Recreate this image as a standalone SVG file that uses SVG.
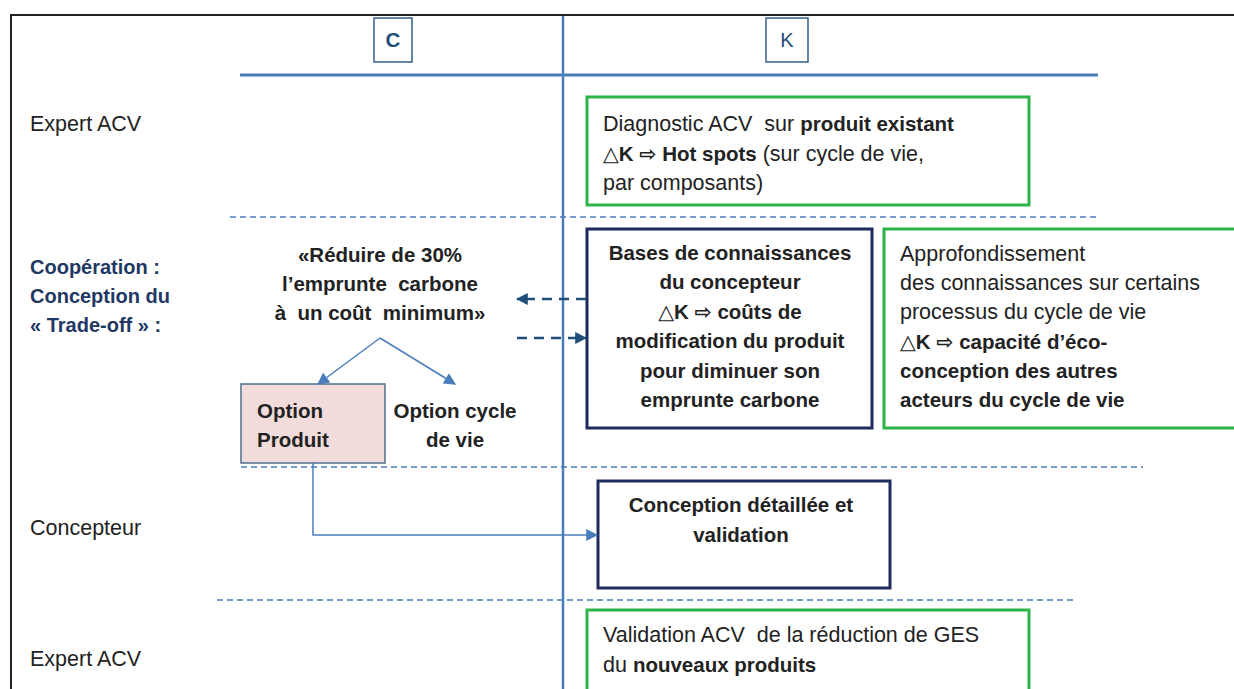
<svg xmlns="http://www.w3.org/2000/svg" width="1234" height="689" viewBox="0 0 1234 689">
<defs>
<style>
text{font-family:"Liberation Sans","DejaVu Sans",sans-serif;font-size:21.5px;fill:#222;white-space:pre}
.b{font-weight:bold;font-size:20.5px}
tspan.b{font-size:20.5px}
.c{text-anchor:middle}
.navy{fill:#1f3864;font-weight:bold;font-size:20px}
.g{fill:#fff;stroke:#2db34a;stroke-width:3}
.n{fill:#fff;stroke:#1f2a5c;stroke-width:3}
.dash{stroke:#4a7ebb;stroke-width:1.5;stroke-dasharray:6 4;fill:none}
.ln{stroke:#4a7ebb;stroke-width:1.5;fill:none}
.dk{stroke:#1f4e79;stroke-width:2.5;stroke-dasharray:10 7;fill:none}
</style>
<marker id="a" viewBox="0 0 10 10" refX="9" refY="5" markerWidth="13" markerHeight="12" markerUnits="userSpaceOnUse" orient="auto"><path d="M0,0L10,5L0,10z" fill="#4a7ebb"/></marker>
<marker id="d" viewBox="0 0 10 10" refX="9" refY="5" markerWidth="12" markerHeight="12" markerUnits="userSpaceOnUse" orient="auto"><path d="M0,0L10,5L0,10z" fill="#1f4e79"/></marker>
</defs>
<rect width="1234" height="689" fill="#fff"/>
<rect x="11" y="15" width="1240" height="700" fill="none" stroke="#222" stroke-width="2"/>
<g id="grid">
<line x1="240" y1="75" x2="1098" y2="75" stroke="#4a7ebb" stroke-width="3"/>
<line x1="563" y1="16" x2="563" y2="689" stroke="#4a7ebb" stroke-width="2.5"/>
<line class="dash" x1="230" y1="217" x2="1098" y2="217"/>
<line class="dash" x1="241" y1="467" x2="1143" y2="467"/>
<line class="dash" x1="217" y1="600" x2="1076" y2="600"/>
</g>
<g id="C"><rect x="374" y="18" width="38" height="44" fill="#fff" stroke="#2f5f8f" stroke-width="1.5"/><text class="c b" x="393" y="47" style="fill:#1f4e79">C</text></g>
<g id="K"><rect x="766" y="18" width="42" height="44" fill="#fff" stroke="#2f5f8f" stroke-width="1.5"/><text class="c" x="787" y="47" style="fill:#1f4e79;font-size:20px">K</text></g>
<g id="labels">
<text x="30" y="131">Expert ACV</text>
<text class="navy" x="30" y="274">Coopération :</text>
<text class="navy" x="30" y="303">Conception du</text>
<text class="navy" x="30" y="332">« Trade-off » :</text>
<text x="30" y="535">Concepteur</text>
<text x="30" y="666">Expert ACV</text>
</g>
<g id="diag"><rect class="g" x="587" y="97" width="442" height="108"/>
<text x="603" y="131">Diagnostic ACV  sur <tspan class="b">produit existant</tspan></text>
<text x="603" y="161"><tspan class="b">△K ⇨ Hot spots</tspan> (sur cycle de vie,</text>
<text x="603" y="190">par composants)</text></g>
<g id="goal"><text class="c b" x="380" y="262">«Réduire de 30%</text>
<text class="c b" x="380" y="291">l’emprunte  carbone</text>
<text class="c b" x="380" y="320">à  un coût  minimum»</text></g>
<g id="optprod"><rect x="241" y="384" width="144" height="79" fill="#f2dcdb" stroke="#4f6f8f" stroke-width="1.5"/>
<text class="b" x="257" y="418">Option</text><text class="b" x="257" y="447">Produit</text></g>
<g id="optcycle"><text class="c b" x="455" y="418">Option cycle</text><text class="c b" x="455" y="447">de vie</text></g>
<g id="bases"><rect class="n" x="587" y="229" width="285" height="199"/>
<text class="c b" x="730" y="260">Bases de connaissances</text>
<text class="c b" x="730" y="289">du concepteur</text>
<text class="c b" x="730" y="319">△K ⇨ coûts de</text>
<text class="c b" x="730" y="348">modification du produit</text>
<text class="c b" x="730" y="378">pour diminuer son</text>
<text class="c b" x="730" y="407">emprunte carbone</text></g>
<g id="appro"><rect class="g" x="884" y="229" width="360" height="199"/>
<text x="900" y="261">Approfondissement</text>
<text x="900" y="290">des connaissances sur certains</text>
<text x="900" y="319">processus du cycle de vie</text>
<text class="b" x="900" y="349">△K ⇨ capacité d’éco-</text>
<text class="b" x="900" y="378">conception des autres</text>
<text class="b" x="900" y="407">acteurs du cycle de vie</text></g>
<g id="detail"><rect class="n" x="598" y="481" width="292" height="107"/>
<text class="c b" x="741" y="512">Conception détaillée et</text>
<text class="c b" x="741" y="542">validation</text></g>
<g id="valid"><rect class="g" x="587" y="610" width="442" height="90"/>
<text x="603" y="642">Validation ACV  de la réduction de GES</text>
<text x="603" y="672">du <tspan class="b">nouveaux produits</tspan></text></g>
<g id="connectors">
<path class="ln" d="M380,338L318,384" marker-end="url(#a)"/>
<path class="ln" d="M380,338L455,384" marker-end="url(#a)"/>
<path class="dk" d="M586,299H517" marker-end="url(#d)"/>
<path class="dk" d="M517,338H586" marker-end="url(#d)"/>
<path class="ln" d="M313,463V535H597" marker-end="url(#a)"/>
</g>
</svg>
